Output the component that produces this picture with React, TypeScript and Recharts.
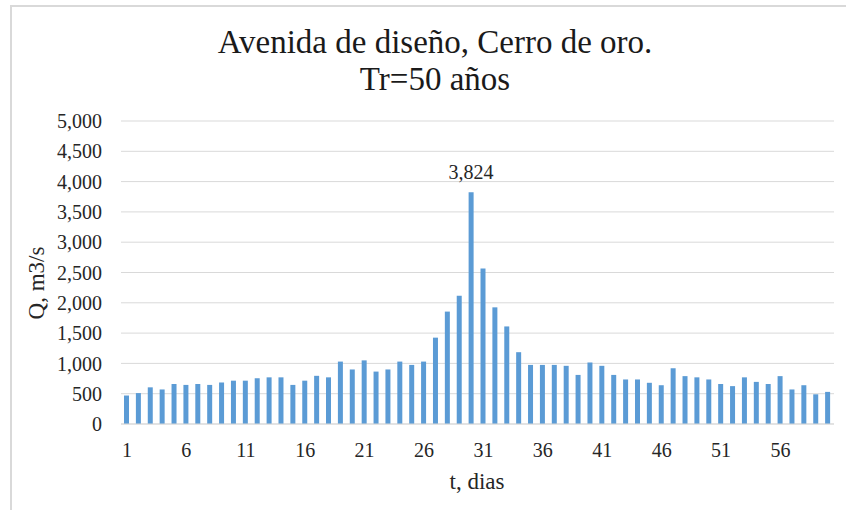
import React from 'react';
import { BarChart, Bar, XAxis, YAxis, CartesianGrid, LabelList } from 'recharts';

// t, dias
const days = [
  1, 2, 3, 4, 5, 6, 7, 8, 9, 10, 11, 12, 13, 14, 15, 16, 17, 18, 19, 20,
  21, 22, 23, 24, 25, 26, 27, 28, 29, 30, 31, 32, 33, 34, 35, 36, 37, 38, 39, 40,
  41, 42, 43, 44, 45, 46, 47, 48, 49, 50, 51, 52, 53, 54, 55, 56, 57, 58, 59, 60,
];

// Q, m3/s
const flows = [
  470, 510, 605, 570, 660, 645, 660, 645, 685, 715, 715, 755, 770, 770, 645, 715, 795, 770, 1030, 900,
  1050, 865, 900, 1030, 975, 1030, 1425, 1855, 2115, 3824, 2565, 1925, 1610, 1185, 975, 975, 975, 960, 810, 1015,
  960, 810, 735, 735, 680, 640, 920, 790, 770, 735, 660, 625, 770, 695, 660, 790, 570, 640, 490, 530,
];

const yTicks = [0, 500, 1000, 1500, 2000, 2500, 3000, 3500, 4000, 4500, 5000];

const data = days.map((d, i) => ({ day: d, q: flows[i] }));
const peak = Math.max(...flows);
const peakIdx = flows.indexOf(peak);

const serif = '"Liberation Serif", "Times New Roman", serif';
const fmt = (v: number) => v.toLocaleString('en-US');

function PeakLabel(props: any) {
  const { x, y, width, index } = props;
  if (index !== peakIdx) return null;
  return (
    <text x={x + width / 2} y={y - 13} textAnchor="middle" fontFamily={serif} fontSize={20} fill="#262626">
      {fmt(peak)}
    </text>
  );
}

export default function App() {
  return (
    <div style={{ position: 'absolute', left: 0, top: 0, width: 846, height: 510, overflow: 'hidden', background: '#fff' }}>
      <div style={{ position: 'absolute', left: 10, top: 5, width: 900, height: 600, border: '2px solid #d9d9d9' }} />
      <div style={{ position: 'absolute', left: 0, top: 24, width: 870, textAlign: 'center', fontFamily: serif, fontSize: 33, lineHeight: '37px', color: '#1a1a1a' }}>
        Avenida de diseño, Cerro de oro.
        <br />
        Tr=50 años
      </div>
      <BarChart
        width={846}
        height={510}
        data={data}
        margin={{ top: 121, right: 12, bottom: 56, left: 0 }}
        style={{ position: 'absolute', left: 0, top: 0 }}
      >
        <CartesianGrid vertical={false} stroke="#d9d9d9" />
        <XAxis
          dataKey="day"
          height={30}
          interval={4}
          tickLine={false}
          tickMargin={13}
          axisLine={{ stroke: '#d9d9d9' }}
          tick={{ fontFamily: serif, fontSize: 20, fill: '#262626' }}
        />
        <YAxis
          width={121}
          domain={[0, 5000]}
          ticks={yTicks}
          interval={0}
          tickFormatter={fmt}
          axisLine={false}
          tickLine={false}
          tickMargin={13}
          tick={{ fontFamily: serif, fontSize: 20, fill: '#262626' }}
        />
        <Bar dataKey="q" fill="#5B9BD5" barSize={5} isAnimationActive={false}>
          <LabelList dataKey="q" content={PeakLabel} />
        </Bar>
      </BarChart>
      <div style={{ position: 'absolute', left: 377, top: 468, width: 200, textAlign: 'center', fontFamily: serif, fontSize: 23, lineHeight: '28px', color: '#262626' }}>
        t, dias
      </div>
      <div
        style={{
          position: 'absolute', left: -63, top: 268, width: 200, height: 30, lineHeight: '30px',
          textAlign: 'center', fontFamily: serif, fontSize: 23, color: '#262626', transform: 'rotate(-90deg)',
        }}
      >
        Q, m3/s
      </div>
    </div>
  );
}
